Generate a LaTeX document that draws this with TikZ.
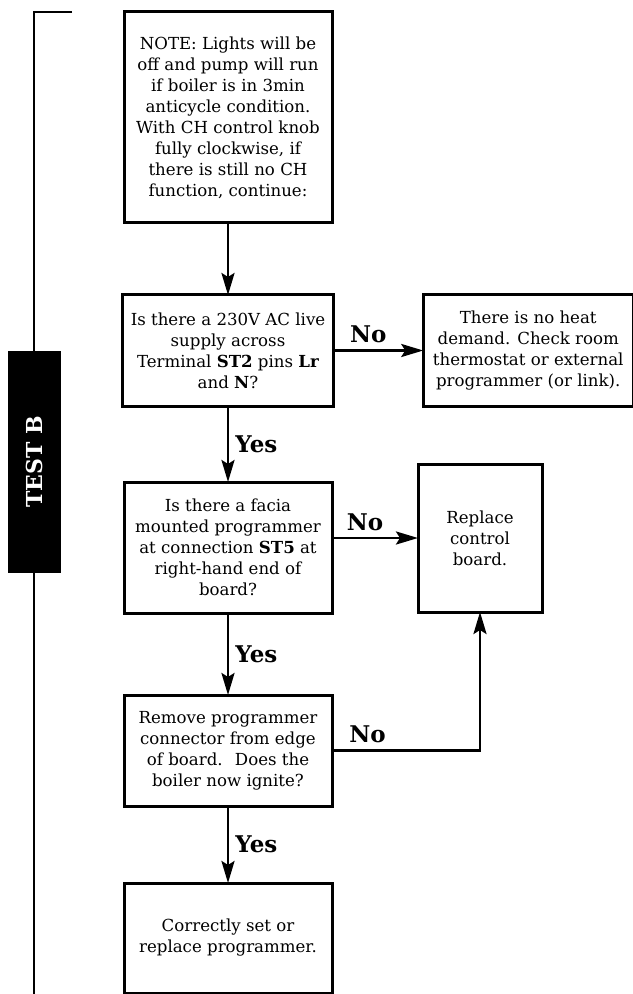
\documentclass[tikz,border=0pt]{standalone}
\usepackage{fontspec}
\setmainfont{DejaVu Serif}
\usetikzlibrary{positioning,arrows.meta}

\begin{document}
\begin{tikzpicture}[every text node part/.style={align=center}]

\tikzstyle{box} = [rectangle,draw,line width=1.5pt,outer sep=0,inner sep=4pt,minimum width=104pt,font=\fontsize{8.3}{10.5}\selectfont]
\tikzstyle{answer} = [font=\fontsize{11.5}{13}\selectfont\bfseries,inner sep=3pt]
\tikzstyle{arrow} = [draw,line width=1.4pt,-{Stealth[length=11pt,width=6.5pt,inset=2pt]}]
\tikzstyle{bracket} = [draw,line width=1.1pt]
\tikzstyle{tab} = [fill=black,text=white,rotate=90,minimum width=111pt,minimum height=26.5pt,font=\fontsize{11}{13}\selectfont\bfseries]

\useasboundingbox (0,0) rectangle (316pt,-497pt);

% side bracket and tab
\coordinate (brtop) at (36pt,-6pt);
\coordinate (brbot) at (17pt,-497pt);
\draw [bracket] (brtop) -- (brtop -| brbot) -- (brbot);
\node [tab] (test) at (17.25pt,-231pt) {TEST B};

% main column
\node [box, minimum height=105.5pt] (note) at (114pt,-58.75pt) {NOTE: Lights will be\\off and pump will run\\if boiler is in 3min\\anticycle condition.\\With CH control knob\\fully clockwise, if\\there is still no CH\\function, continue:};
\node [box, minimum height=55.5pt, below=36pt of note] (supply) {Is there a 230V AC live\\supply across\\Terminal \textbf{ST2} pins \textbf{Lr}\\and \textbf{N}?};
\node [box, minimum height=65.5pt, below=38pt of supply] (facia) {Is there a facia\\mounted programmer\\at connection \textbf{ST5} at\\right-hand end of\\board?};
\node [box, minimum height=55.5pt, below=41pt of facia] (remove) {Remove programmer\\connector from edge\\of board.~ Does the\\boiler now ignite?};
\node [box, minimum height=55pt, below=38.5pt of remove] (setprog) {Correctly set or\\replace programmer.};

% right column
\node [box, minimum width=105pt, minimum height=56pt, right=45pt of supply] (noheat) {There is no heat\\demand. Check room\\thermostat or external\\programmer (or link).};
\node [box, minimum width=62pt, minimum height=74pt, right=43pt of facia, yshift=4.75pt] (replace) {Replace\\control\\board.};

% connectors
\draw [arrow] (note) -- (supply);
\draw [arrow] (supply) -- node [answer, above, xshift=-5pt] {No} (noheat);
\draw [arrow] (supply) -- node [answer, right] {Yes} (facia);
\draw [arrow] (facia.east |- replace.west) -- node [answer, above, xshift=-5pt] {No} (replace.west);
\draw [arrow] (facia) -- node [answer, right] {Yes} (remove);
\draw [arrow] (remove.east) -| node [answer, above, pos=0.12] {No} (replace.south);
\draw [arrow] (remove) -- node [answer, right] {Yes} (setprog);
\end{tikzpicture}
\end{document}
